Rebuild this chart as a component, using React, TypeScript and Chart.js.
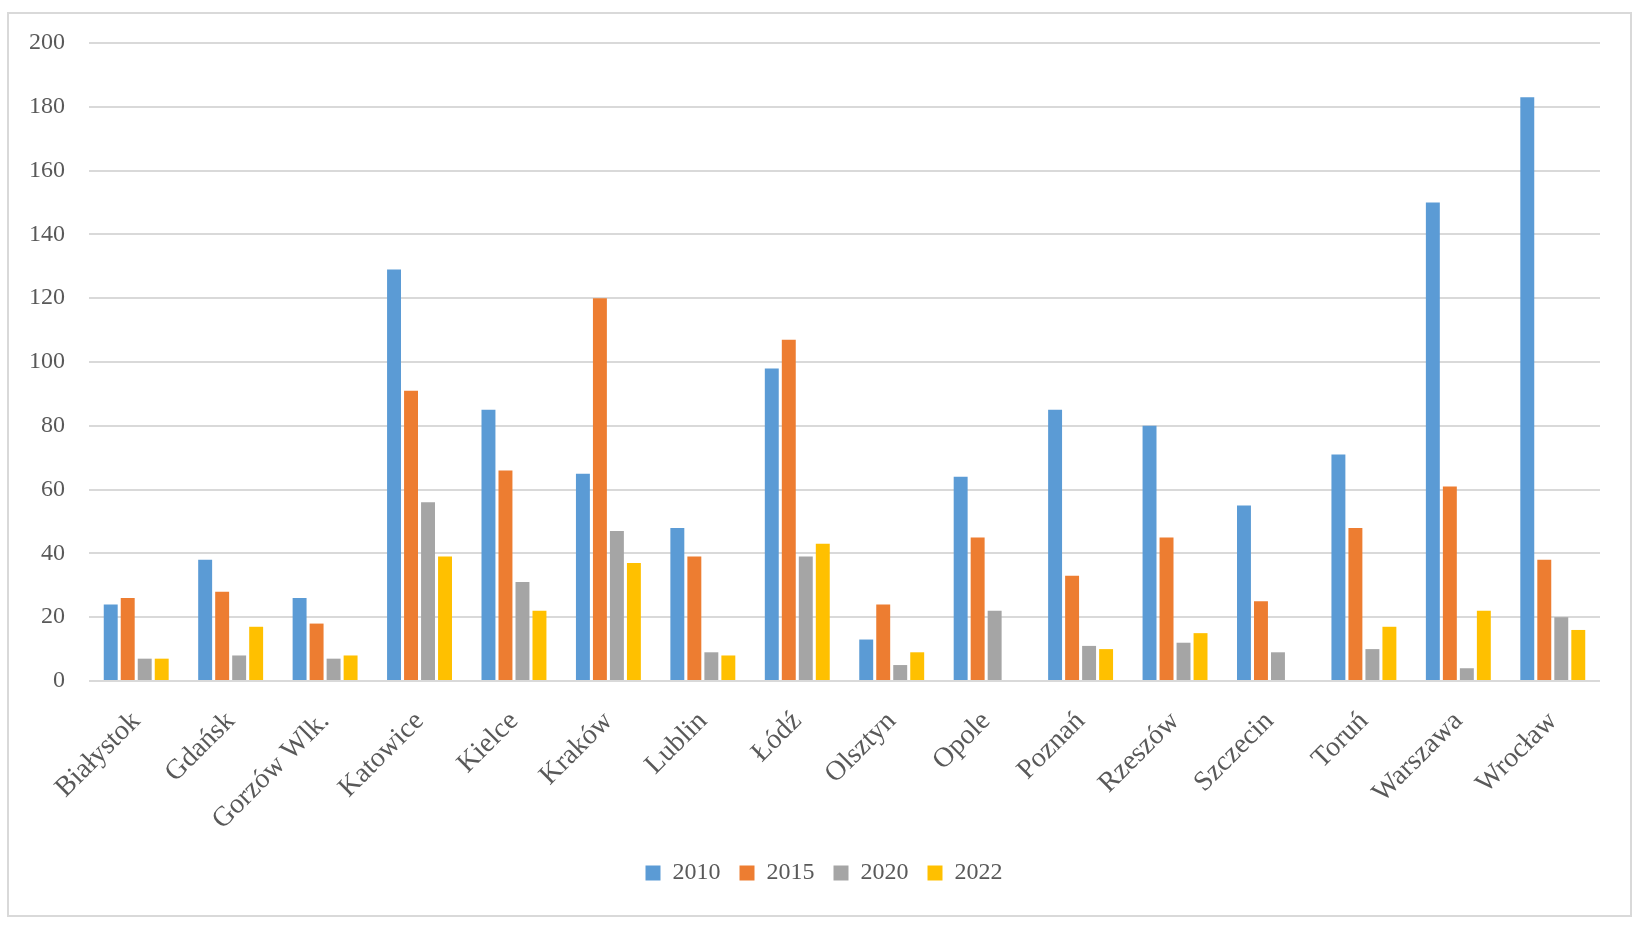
import React, { useEffect, useRef } from "react";
import { Chart, registerables } from "chart.js";

Chart.register(...registerables);

const cities = [
  "Białystok", "Gdańsk", "Gorzów Wlk.", "Katowice", "Kielce", "Kraków", "Lublin", "Łódź",
  "Olsztyn", "Opole", "Poznań", "Rzeszów", "Szczecin", "Toruń", "Warszawa", "Wrocław",
];
const v2010 = [24, 38, 26, 129, 85, 65, 48, 98, 13, 64, 85, 80, 55, 71, 150, 183];
const v2015 = [26, 28, 18, 91, 66, 120, 39, 107, 24, 45, 33, 45, 25, 48, 61, 38];
const v2020 = [7, 8, 7, 56, 31, 47, 9, 39, 5, 22, 11, 12, 9, 10, 4, 20];
const v2022 = [7, 17, 8, 39, 22, 37, 8, 43, 9, 0, 10, 15, 0, 17, 22, 16];
const seriesLabels = ["2010", "2015", "2020", "2022"];
const seriesColors = ["#5B9BD5", "#ED7D31", "#A5A5A5", "#FFC000"];
const yTicks = { min: 0, max: 200, step: 20 };

const legendShift = {
  id: "legendShift",
  afterLayout(chart: any) {
    const l = chart.legend;
    if (l) {
      l.left += 14;
      l.right += 14;
    }
  },
};

export default function App() {
  const ref = useRef<HTMLCanvasElement | null>(null);

  useEffect(() => {
    if (!ref.current) return;
    const values = [v2010, v2015, v2020, v2022];
    const chart = new Chart(ref.current, {
      type: "bar",
      data: {
        labels: cities,
        datasets: values.map((d, i) => ({
          label: seriesLabels[i],
          data: d,
          backgroundColor: seriesColors[i],
          borderWidth: 0,
          categoryPercentage: 0.72,
          barPercentage: 0.82,
        })),
      },
      plugins: [legendShift],
      options: {
        animation: false,
        responsive: false,
        maintainAspectRatio: false,
        layout: { padding: { left: 20, right: 38, top: 43, bottom: 31 } },
        plugins: {
          tooltip: { enabled: false },
          legend: {
            position: "bottom",
            labels: {
              boxWidth: 15,
              boxHeight: 15,
              padding: 19,
              color: "#595959",
              font: { family: "Liberation Serif", size: 24 },
            },
          },
        },
        scales: {
          x: {
            grid: { display: false },
            border: { display: false },
            ticks: {
              autoSkip: false,
              minRotation: 45,
              maxRotation: 45,
              padding: 16,
              color: "#595959",
              font: { family: "Liberation Serif", size: 28 },
            },
            afterFit: (s: any) => { s.height = 161; },
          },
          y: {
            min: yTicks.min,
            max: yTicks.max,
            grid: { color: "#d9d9d9", lineWidth: 2, drawTicks: false },
            border: { display: false },
            ticks: {
              stepSize: yTicks.step,
              padding: 24,
              color: "#595959",
              font: { family: "Liberation Serif", size: 24 },
            },
            afterFit: (s: any) => { s.width = 69; },
          },
        },
      },
    });
    return () => chart.destroy();
  }, []);

  return (
    <div>
      <div
        style={{
          position: "absolute",
          left: 7,
          top: 12,
          width: 1625,
          height: 905,
          border: "2px solid #d9d9d9",
          boxSizing: "border-box",
          background: "#fff",
        }}
      />
      <div style={{ position: "absolute", left: 0, top: 0, width: 1638, height: 926 }}>
        <canvas ref={ref} width={1638} height={926} style={{ display: "block" }} />
      </div>
    </div>
  );
}
